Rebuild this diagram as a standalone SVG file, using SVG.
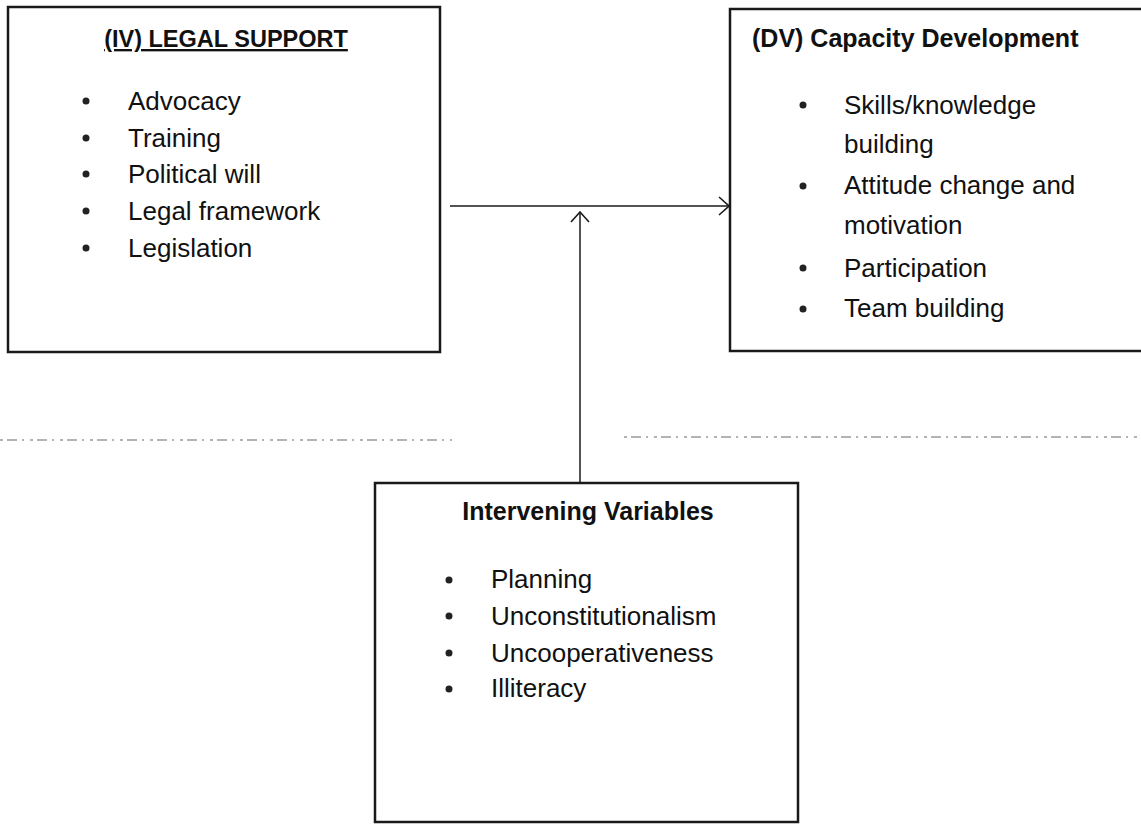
<svg xmlns="http://www.w3.org/2000/svg" width="1141" height="824" viewBox="0 0 1141 824">
<style>
.box{fill:#fff;stroke:#1a1a1a;stroke-width:2.5}
.t{font-family:"Liberation Sans",Arial,sans-serif;fill:#111}
.h{font-weight:bold}
.b{font-size:26px}
.dot{fill:#222}
.con{stroke:#1a1a1a;stroke-width:1.5;fill:none}
.scan{stroke:#9a9a9a;stroke-width:1.5;fill:none;stroke-dasharray:3 4 10 5 2 6}
</style>
<defs>
<marker id="arr" viewBox="0 0 12 20" refX="11" refY="10" markerWidth="12" markerHeight="20" markerUnits="userSpaceOnUse" orient="auto">
<path d="M1,1 L11,10 L1,19" fill="none" stroke="#1a1a1a" stroke-width="1.6"/>
</marker>
</defs>
<rect width="1141" height="824" fill="#fff"/>
<g id="scanline">
<path class="scan" d="M0,440 L452,440"/>
<path class="scan" d="M624,437 L1141,437"/>
</g>
<g id="iv">
<rect class="box" x="8" y="7" width="432" height="345"/>
<text class="t h" x="226" y="47" font-size="23.5" text-anchor="middle" text-decoration="underline">(IV) LEGAL SUPPORT</text>
<circle class="dot" cx="86" cy="101" r="3.5"/>
<circle class="dot" cx="86" cy="138" r="3.5"/>
<circle class="dot" cx="86" cy="174" r="3.5"/>
<circle class="dot" cx="86" cy="211" r="3.5"/>
<circle class="dot" cx="86" cy="248" r="3.5"/>
<text class="t b" x="128" y="110">Advocacy</text>
<text class="t b" x="128" y="147">Training</text>
<text class="t b" x="128" y="183">Political will</text>
<text class="t b" x="128" y="220">Legal framework</text>
<text class="t b" x="128" y="257">Legislation</text>
</g>
<g id="dv">
<rect class="box" x="730" y="9" width="420" height="342"/>
<text class="t h" x="752" y="47" font-size="25">(DV) Capacity Development</text>
<circle class="dot" cx="803" cy="105" r="3.5"/>
<circle class="dot" cx="803" cy="186" r="3.5"/>
<circle class="dot" cx="803" cy="268" r="3.5"/>
<circle class="dot" cx="803" cy="309" r="3.5"/>
<text class="t b" x="844" y="114">Skills/knowledge</text>
<text class="t b" x="844" y="153">building</text>
<text class="t b" x="844" y="194">Attitude change and</text>
<text class="t b" x="844" y="234">motivation</text>
<text class="t b" x="844" y="277">Participation</text>
<text class="t b" x="844" y="317">Team building</text>
</g>
<g id="iv2">
<rect class="box" x="375" y="483" width="423" height="339"/>
<text class="t h" x="588" y="520" font-size="25" text-anchor="middle">Intervening Variables</text>
<circle class="dot" cx="449" cy="580" r="3.5"/>
<circle class="dot" cx="449" cy="616" r="3.5"/>
<circle class="dot" cx="449" cy="653" r="3.5"/>
<circle class="dot" cx="449" cy="689" r="3.5"/>
<text class="t b" x="491" y="588">Planning</text>
<text class="t b" x="491" y="625">Unconstitutionalism</text>
<text class="t b" x="491" y="662">Uncooperativeness</text>
<text class="t b" x="491" y="697">Illiteracy</text>
</g>
<g id="connectors">
<path class="con" d="M450,206 L729,206" marker-end="url(#arr)"/>
<path class="con" d="M580,483 L580,212" marker-end="url(#arr)"/>
</g>
</svg>
